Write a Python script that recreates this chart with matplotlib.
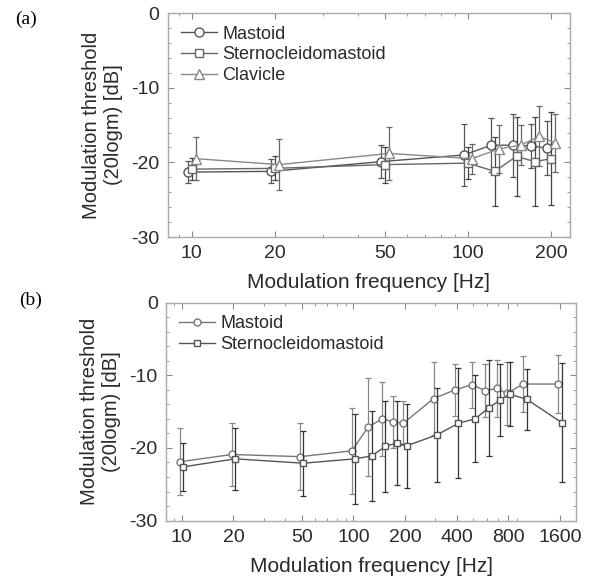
import numpy as np
import matplotlib.pyplot as plt
from matplotlib.ticker import FixedLocator, NullFormatter, LogLocator, MultipleLocator

plt.rcParams['font.family'] = ['Liberation Sans', 'DejaVu Sans']
plt.rcParams['axes.unicode_minus'] = False

# panel (a)
freq_a = [10, 20, 50, 100, 125, 150, 175, 200]
mast_a = [-21.3, -21.2, -19.9, -19.0, -17.7, -17.7, -17.8, -18.1]
mast_a_sd = [1.5, 1.6, 2.2, 4.2, 3.6, 4.2, 2.9, 3.6]
stern_a = [-20.9, -20.8, -20.3, -20.1, -21.2, -19.2, -19.9, -19.5]
stern_a_sd = [1.5, 1.6, 2.4, 2.1, 4.6, 5.3, 6.0, 6.2]
clav_a = [-19.5, -20.3, -18.8, -19.5, -18.2, -17.7, -16.5, -17.4]
clav_a_sd = [2.9, 3.4, 3.6, 2.0, 3.2, 2.7, 4.0, 3.9]

# panel (b)
freq_b = [10, 20, 50, 100, 125, 150, 175, 200, 300, 400, 500, 600, 700, 800, 1000, 1600]
mast_b = [-21.9, -20.9, -21.2, -20.4, -17.1, -16.0, -16.4, -16.6, -13.2, -12.0,
          -11.3, -12.1, -11.8, -12.5, -11.2, -11.2]
mast_b_sd = [4.6, 4.3, 4.6, 5.9, 6.8, 5.1, 3.6, 3.0, 5.0, 3.6,
             3.2, 3.7, 3.9, 4.3, 3.8, 4.0]
stern_b = [-22.6, -21.5, -22.1, -21.5, -21.1, -19.8, -19.3, -19.7, -18.2, -16.6,
           -16.0, -14.5, -13.4, -12.6, -13.3, -16.5]
stern_b_sd = [3.3, 4.3, 4.5, 6.2, 6.2, 6.3, 5.8, 5.8, 6.5, 7.6,
              6.0, 6.6, 5.0, 4.4, 4.2, 8.2]

fig = plt.figure(figsize=(5.89, 5.81), dpi=100)
ax1 = fig.add_axes([0.285, 0.592, 0.6825, 0.3855])
ax2 = fig.add_axes([0.282, 0.104, 0.696, 0.375])

TXT = '#2a2a2a'


def style(ax, xticks, xlim):
    ax.set_xscale('log')
    ax.set_xlim(xlim)
    ax.set_ylim(-30, 0)
    ax.xaxis.set_major_locator(FixedLocator(xticks))
    ax.set_xticklabels([str(t) for t in xticks])
    ax.xaxis.set_minor_locator(LogLocator(base=10, subs=np.arange(2, 10)))
    ax.xaxis.set_minor_formatter(NullFormatter())
    ax.set_yticks([0, -10, -20, -30])
    ax.yaxis.set_minor_locator(MultipleLocator(2))
    ax.tick_params(which='both', direction='in', top=True, right=True,
                   color='#888888', labelsize=14, labelcolor=TXT)
    ax.tick_params(which='major', length=4, pad=6)
    ax.tick_params(which='minor', length=2)
    for s in ax.spines.values():
        s.set_color('#aaaaaa')
        s.set_linewidth(1.0)
    ax.set_xlabel('Modulation frequency [Hz]', fontsize=15, labelpad=8, color=TXT)
    ax.set_ylabel('Modulation threshold\n(20logm) [dB]', fontsize=14.5, labelpad=6,
                  color=TXT, linespacing=1.2)


def series(ax, x, y, e, fac, marker, col, ecol, ms, label):
    xs = np.array(x) * fac
    ax.errorbar(xs, y, yerr=e, fmt='none', elinewidth=0.9,
                ecolor=ecol, capsize=2.5, capthick=0.9)
    ax.plot(xs, y, marker=marker, color=col, mfc='white', mec=col, ms=ms,
            lw=1.0, label=label)


series(ax1, freq_a, mast_a, mast_a_sd, 0.97, 'o', '#555555', '#555555', 6.5, 'Mastoid')
series(ax1, freq_a, stern_a, stern_a_sd, 1.0, 's', '#666666', '#444444', 6.0, 'Sternocleidomastoid')
series(ax1, freq_a, clav_a, clav_a_sd, 1.035, '^', '#888888', '#666666', 6.5, 'Clavicle')
style(ax1, [10, 20, 50, 100, 200], (8.2, 234))
ax1.legend(loc='upper left', frameon=False, fontsize=13, handlelength=2.0,
           handletextpad=0.3, labelspacing=0.2, borderaxespad=0.3,
           bbox_to_anchor=(0.0, 1.0), labelcolor=TXT)

series(ax2, freq_b, mast_b, mast_b_sd, 0.978, 'o', '#777777', '#888888', 5.0, 'Mastoid')
series(ax2, freq_b, stern_b, stern_b_sd, 1.023, 's', '#555555', '#333333', 5.0, 'Sternocleidomastoid')
style(ax2, [10, 20, 50, 100, 200, 400, 800, 1600], (8.1, 1985))
ax2.legend(loc='upper left', frameon=False, fontsize=13, handlelength=2.0,
           handletextpad=0.3, labelspacing=0.2, borderaxespad=0.3,
           bbox_to_anchor=(0.0, 1.0), labelcolor=TXT)

fig.text(0.025, 0.958, '(a)', fontsize=14, family=['Liberation Serif', 'DejaVu Serif'])
fig.text(0.033, 0.475, '(b)', fontsize=14, family=['Liberation Serif', 'DejaVu Serif'])

fig.savefig('out.png', dpi=100, facecolor='white')
